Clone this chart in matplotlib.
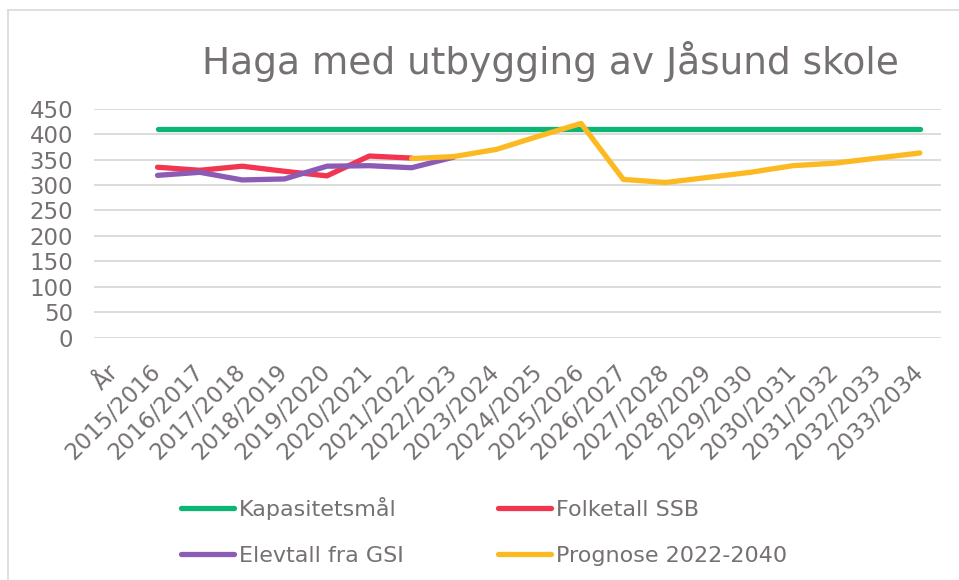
import matplotlib
matplotlib.use("Agg")
import matplotlib.pyplot as plt
import numpy as np
from matplotlib.lines import Line2D

nan = np.nan

categories = ["År", "2015/2016", "2016/2017", "2017/2018", "2018/2019", "2019/2020",
              "2020/2021", "2021/2022", "2022/2023", "2023/2024", "2024/2025",
              "2025/2026", "2026/2027", "2027/2028", "2028/2029", "2029/2030",
              "2030/2031", "2031/2032", "2032/2033", "2033/2034"]

kapasitetsmal = [nan] + [410] * 19
folketall_ssb = [nan, 335, 329, 337, 327, 318, 357, 353] + [nan] * 12
elevtall_gsi = [nan, 319, 325, 310, 312, 337, 338, 334, 355] + [nan] * 11
prognose = [nan] * 7 + [352, 356, 370, 396, 421, 311, 305, 315, 325, 338, 343, 353, 363]

text_color = "#767171"
grid_color = "#d9d9d9"

fig = plt.figure(figsize=(9.59, 5.80), dpi=100)
ax = fig.add_axes([94 / 959, 1 - 337.7 / 580, 847 / 959, 229 / 580])

x = np.arange(len(categories))
lw = 3.8
h_kap, = ax.plot(x, kapasitetsmal, color="#0bb574", lw=lw, solid_capstyle="round", label="Kapasitetsmål")
h_ssb, = ax.plot(x, folketall_ssb, color="#f2364f", lw=lw, solid_capstyle="round", label="Folketall SSB")
h_gsi, = ax.plot(x, elevtall_gsi, color="#8b5bb6", lw=lw, solid_capstyle="round", label="Elevtall fra GSI")
h_prog, = ax.plot(x, prognose, color="#fdb921", lw=lw, solid_capstyle="round", label="Prognose 2022-2040")

ax.set_xlim(-0.5, len(categories) - 0.5)
ax.set_ylim(0, 450)
ax.set_yticks(range(0, 451, 50))
ax.set_xticks(x)
ax.set_xticklabels(categories, rotation=45, ha="right", va="center", rotation_mode="anchor")
ax.tick_params(axis="both", length=0, labelsize=16.5, colors=text_color)
ax.tick_params(axis="y", pad=15)
ax.tick_params(axis="x", pad=22)
ax.grid(axis="y", color=grid_color, lw=1.3)
ax.set_axisbelow(True)
for s in ax.spines.values():
    s.set_visible(False)

fig.text(550 / 959, 1 - 62 / 580, "Haga med utbygging av Jåsund skole",
         ha="center", va="center", fontsize=27, color=text_color)

fig.legend([h_kap, h_gsi, h_ssb, h_prog],
           ["Kapasitetsmål", "Elevtall fra GSI", "Folketall SSB", "Prognose 2022-2040"],
           ncol=2, loc="upper left", bbox_to_anchor=(181 / 959, 1 - 497 / 580),
           frameon=False, fontsize=16, labelcolor=text_color, handlelength=2.4,
           handletextpad=0.2, columnspacing=4.25, labelspacing=1.17,
           borderpad=0, borderaxespad=0)

# light frame around the chart area
fig.add_artist(Line2D([8 / 959, 8 / 959], [0, 1 - 10 / 580], color=grid_color, lw=1.2))
fig.add_artist(Line2D([8 / 959, 1], [1 - 10 / 580, 1 - 10 / 580], color=grid_color, lw=1.2))

fig.savefig("out.png", dpi=100)
